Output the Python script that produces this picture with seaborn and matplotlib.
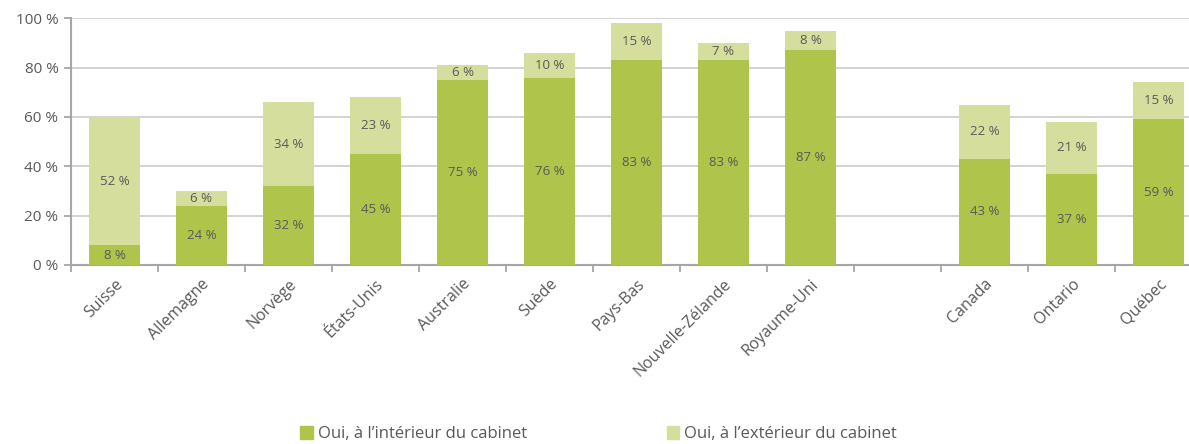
import matplotlib.pyplot as plt
import matplotlib.transforms as mtransforms
from matplotlib.patches import Patch
import pandas as pd
import seaborn as sns

# données
pays = ['Suisse', 'Allemagne', 'Norvège', 'États-Unis', 'Australie', 'Suède',
        'Pays-Bas', 'Nouvelle-Zélande', 'Royaume-Uni', 'Canada', 'Ontario', 'Québec']
interieur = [8, 24, 32, 45, 75, 76, 83, 83, 87, 43, 37, 59]
exterieur = [52, 6, 34, 23, 6, 10, 15, 7, 8, 22, 21, 15]
serie_int = 'Oui, à l’intérieur du cabinet'
serie_ext = 'Oui, à l’extérieur du cabinet'

# ordre des catégories avec une case vide entre Royaume-Uni et Canada
ordre = pays[:9] + [''] + pays[9:]

df = pd.DataFrame({'pays': pays, 'int': interieur, 'ext': exterieur})
df['total'] = df['int'] + df['ext']

vert_fonce = '#AEC44B'
vert_clair = '#D6DE9E'
gris_texte = '#595959'
gris_axe = '#A6A6A6'

sns.set_style('white')
plt.rcParams['font.family'] = ['Open Sans', 'DejaVu Sans']

fig = plt.figure(figsize=(11.89, 4.44), dpi=100)
ax = fig.add_axes([71 / 1189, 1 - 265 / 444, (1202 - 71) / 1189, (265 - 18.3) / 444])

sns.barplot(data=df, x='pays', y='total', order=ordre, color=vert_clair,
            width=0.58, saturation=1, ax=ax, errorbar=None, linewidth=0, zorder=3)
sns.barplot(data=df, x='pays', y='int', order=ordre, color=vert_fonce,
            width=0.58, saturation=1, ax=ax, errorbar=None, linewidth=0, zorder=3)

# étiquettes des segments
pos = {p: i for i, p in enumerate(ordre)}
for p, vi, ve in zip(pays, interieur, exterieur):
    x = pos[p]
    ax.text(x, vi / 2, f'{vi} %', ha='center', va='center', fontsize=9.5,
            color=gris_texte, zorder=4)
    ax.text(x, vi + ve / 2, f'{ve} %', ha='center', va='center', fontsize=9.5,
            color=gris_texte, zorder=4)

ax.set_xlim(-0.5, len(ordre) - 0.5)
ax.set_ylim(0, 100)
ax.set_yticks(range(0, 101, 20))
ax.set_yticklabels([f'{v} %' for v in range(0, 101, 20)])
ax.yaxis.grid(True, color='#D0D0D0', linewidth=1.3, zorder=0)
ax.set_axisbelow(True)
ax.set_xlabel('')
ax.set_ylabel('')

# graduations aux limites des catégories
ax.set_xticks(range(len(ordre)))
ax.set_xticklabels(ordre, rotation=45, ha='right', rotation_mode='anchor',
                   fontsize=11.5, color=gris_texte)
decalage = mtransforms.ScaledTranslation(-7 / 100, 0, fig.dpi_scale_trans)
for lab in ax.get_xticklabels():
    lab.set_transform(lab.get_transform() + decalage)
ax.set_xticks([i - 0.5 for i in range(len(ordre) + 1)], minor=True)
ax.tick_params(axis='x', which='major', bottom=True, length=0, pad=8)
ax.tick_params(axis='x', which='minor', bottom=True, length=5, width=1.3,
               color=gris_axe, direction='out')
ax.tick_params(axis='y', left=True, length=5, width=1.3, color=gris_axe,
               labelsize=11, labelcolor=gris_texte, direction='out', pad=4)

for s in ['top', 'right']:
    ax.spines[s].set_visible(False)
for s in ['left', 'bottom']:
    ax.spines[s].set_color(gris_axe)
    ax.spines[s].set_linewidth(1.5)

handles = [Patch(color=vert_fonce, label=serie_int),
           Patch(color=vert_clair, label=serie_ext)]
fig.legend(handles=handles, loc='lower center', bbox_to_anchor=(0.5035, -0.03),
           ncol=2, frameon=False, fontsize=12, labelcolor=gris_texte,
           handlelength=0.75, handleheight=0.75, handletextpad=0.3,
           columnspacing=8.4)

fig.savefig('out.png', dpi=100)
